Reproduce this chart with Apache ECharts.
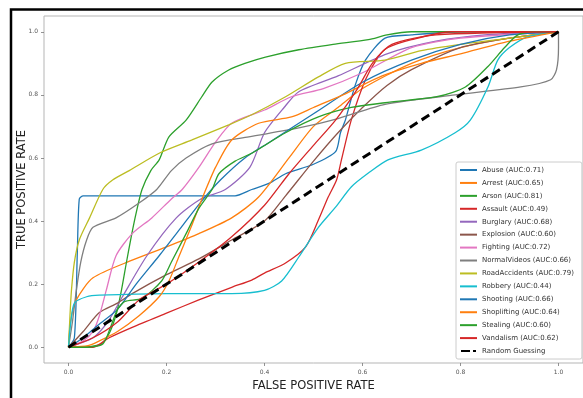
<!DOCTYPE html>
<html>
<head>
<meta charset="utf-8">
<script src="https://cdn.jsdelivr.net/npm/echarts@6/dist/echarts.min.js"></script>
<style>
html,body{margin:0;padding:0;background:#fff;}
#chart{width:583px;height:398px;}
</style>
</head>
<body>
<div id="chart"></div>
<script>
// ---- data ----
const categories = ["Abuse","Arrest","Arson","Assault","Burglary","Explosion","Fighting","NormalVideos","RoadAccidents","Robbery","Shooting","Shoplifting","Stealing","Vandalism"];
const aucValues = ["0.71","0.65","0.81","0.49","0.68","0.60","0.72","0.66","0.79","0.44","0.66","0.64","0.60","0.62"];
const tickValues = [0, 0.2, 0.4, 0.6, 0.8, 1.0];

const abuse = [[0,0],[0.012,0.03],[0.018,0.3],[0.022,0.47],[0.03,0.48],[0.2,0.48],[0.34,0.48],[0.374,0.5],[0.41,0.52],[0.443,0.55],[0.5,0.58],[0.545,0.62],[0.555,0.68],[0.565,0.72],[0.585,0.83],[0.606,0.91],[0.646,0.98],[0.7,0.99],[0.8,1],[1,1]];
const arrest = [[0,0],[0.004,0.08],[0.016,0.15],[0.05,0.22],[0.13,0.276],[0.2,0.318],[0.266,0.36],[0.333,0.41],[0.388,0.476],[0.45,0.6],[0.5,0.7],[0.55,0.76],[0.6,0.82],[0.7,0.9],[0.8,0.95],[0.9,0.98],[1,1]];
const arson = [[0,0],[0.03,0],[0.055,0.005],[0.069,0.013],[0.085,0.05],[0.098,0.108],[0.108,0.18],[0.118,0.267],[0.128,0.35],[0.138,0.425],[0.15,0.5],[0.168,0.56],[0.185,0.594],[0.205,0.667],[0.24,0.72],[0.272,0.794],[0.293,0.841],[0.327,0.879],[0.36,0.9],[0.402,0.92],[0.47,0.943],[0.54,0.96],[0.612,0.975],[0.65,0.99],[0.7,1],[1,1]];
const assault = [[0,0],[0.05,0],[0.083,0.03],[0.13,0.063],[0.2,0.108],[0.266,0.15],[0.333,0.19],[0.374,0.213],[0.4,0.235],[0.443,0.267],[0.484,0.318],[0.51,0.403],[0.53,0.476],[0.547,0.53],[0.557,0.594],[0.577,0.72],[0.606,0.848],[0.632,0.92],[0.652,0.95],[0.7,0.975],[0.78,1],[1,1]];
const burglary = [[0,0],[0.05,0.03],[0.08,0.08],[0.11,0.16],[0.16,0.29],[0.22,0.41],[0.27,0.47],[0.32,0.5],[0.37,0.57],[0.4,0.68],[0.44,0.76],[0.47,0.81],[0.55,0.86],[0.65,0.93],[0.75,0.97],[0.85,0.99],[1,1]];
const explosion = [[0,0],[0.03,0.05],[0.063,0.11],[0.1,0.14],[0.13,0.17],[0.2,0.23],[0.266,0.28],[0.333,0.34],[0.4,0.4],[0.443,0.48],[0.5,0.59],[0.55,0.68],[0.6,0.76],[0.65,0.83],[0.7,0.88],[0.8,0.95],[0.9,0.98],[1,1]];
const fighting = [[0,0],[0.03,0.02],[0.05,0.05],[0.063,0.1],[0.077,0.18],[0.097,0.29],[0.13,0.36],[0.17,0.41],[0.21,0.47],[0.232,0.5],[0.266,0.57],[0.3,0.65],[0.333,0.71],[0.4,0.752],[0.455,0.794],[0.52,0.82],[0.6,0.87],[0.7,0.95],[0.8,0.98],[1,1]];
const normalVideos = [[0,0],[0.008,0.08],[0.016,0.18],[0.025,0.27],[0.037,0.34],[0.05,0.38],[0.097,0.41],[0.144,0.457],[0.18,0.5],[0.21,0.56],[0.24,0.6],[0.293,0.645],[0.368,0.667],[0.47,0.695],[0.55,0.725],[0.646,0.77],[0.789,0.8],[0.923,0.825],[0.984,0.848],[0.996,0.88],[1,0.95],[1,1]];
const roadAccidents = [[0,0],[0.003,0.1],[0.006,0.18],[0.012,0.27],[0.022,0.34],[0.043,0.41],[0.07,0.5],[0.09,0.53],[0.124,0.56],[0.185,0.615],[0.252,0.657],[0.327,0.705],[0.374,0.737],[0.443,0.794],[0.51,0.857],[0.565,0.9],[0.646,0.91],[0.72,0.94],[0.8,0.96],[0.9,0.98],[1,1]];
const robbery = [[0,0],[0.004,0.07],[0.012,0.14],[0.037,0.16],[0.063,0.165],[0.2,0.17],[0.333,0.17],[0.4,0.18],[0.435,0.21],[0.47,0.286],[0.51,0.38],[0.545,0.444],[0.577,0.508],[0.612,0.552],[0.652,0.594],[0.72,0.625],[0.789,0.68],[0.82,0.72],[0.856,0.825],[0.876,0.91],[0.9,0.95],[0.937,0.984],[1,1]];
const shooting = [[0,0],[0.03,0.03],[0.06,0.07],[0.1,0.12],[0.138,0.2],[0.185,0.29],[0.23,0.38],[0.27,0.46],[0.31,0.53],[0.36,0.6],[0.41,0.65],[0.5,0.74],[0.6,0.84],[0.7,0.91],[0.8,0.96],[0.9,0.99],[1,1]];
const shoplifting = [[0,0],[0.04,0.005],[0.063,0.02],[0.1,0.05],[0.144,0.1],[0.185,0.16],[0.205,0.21],[0.226,0.29],[0.25,0.38],[0.275,0.48],[0.3,0.57],[0.333,0.657],[0.388,0.71],[0.455,0.73],[0.5,0.76],[0.56,0.8],[0.64,0.86],[0.72,0.9],[0.8,0.93],[0.9,0.97],[1,1]];
const stealing = [[0,0],[0.04,0],[0.07,0.01],[0.085,0.06],[0.1,0.12],[0.115,0.145],[0.15,0.155],[0.19,0.21],[0.21,0.27],[0.24,0.36],[0.266,0.44],[0.293,0.5],[0.307,0.55],[0.34,0.59],[0.374,0.615],[0.443,0.68],[0.51,0.73],[0.577,0.76],[0.646,0.775],[0.754,0.795],[0.81,0.825],[0.856,0.89],[0.89,0.95],[0.917,0.99],[0.95,1],[1,1]];
const vandalism = [[0,0],[0.05,0.03],[0.1,0.08],[0.144,0.15],[0.2,0.2],[0.266,0.27],[0.333,0.35],[0.4,0.45],[0.45,0.55],[0.5,0.64],[0.545,0.72],[0.59,0.82],[0.62,0.9],[0.66,0.96],[0.75,0.99],[1,1]];
const randomGuess = [[0,0],[1,1]];

const curves = [abuse, arrest, arson, assault, burglary, explosion, fighting, normalVideos, roadAccidents, robbery, shooting, shoplifting, stealing, vandalism];
const colors = ["#1f77b4","#ff7f0e","#2ca02c","#d62728","#9467bd","#8c564b","#e377c2","#7f7f7f","#bcbd22","#17becf","#1f77b4","#ff7f0e","#2ca02c","#d62728"];

// ---- chart ----
const chart = echarts.init(document.getElementById('chart'), null, {renderer: 'canvas'});
const FONT = 'DejaVu Sans';

const series = curves.map((d, i) => ({
  name: categories[i] + ' (AUC:' + aucValues[i] + ')',
  type: 'line',
  data: d,
  symbol: 'none',
  smooth: 0.25,
  lineStyle: {color: colors[i], width: 1.3},
  itemStyle: {color: colors[i]},
  animation: false
}));
series.push({
  name: 'Random Guessing',
  type: 'line',
  data: randomGuess,
  symbol: 'none',
  lineStyle: {color: '#000', width: 3, type: [9, 5]},
  itemStyle: {color: '#000'},
  z: 5,
  animation: false
});

const labelCommon = {
  customValues: tickValues,
  fontSize: 6,
  fontFamily: FONT,
  color: '#555',
  formatter: v => v.toFixed(1)
};

const axisCommon = {
  type: 'value',
  min: -0.05,
  max: 1.05,
  splitLine: {show: false},
  axisLine: {show: false, onZero: false},
  axisTick: {show: true, customValues: tickValues, length: 3, lineStyle: {color: '#777', width: 0.8}},
  nameLocation: 'middle',
  nameMoveOverlap: false,
  nameTextStyle: {fontFamily: FONT, fontSize: 11.5, color: '#222'}
};

const legendData = series.map((s, i) => i < curves.length
  ? {name: s.name, icon: 'rect'}
  : {name: s.name, icon: 'path://M0,0h9v2h-9z M12,0h3v2h-3z'});

chart.setOption({
  backgroundColor: '#fff',
  animation: false,
  grid: {left: 44, top: 16, width: 541, height: 347, show: true, borderColor: '#b5b5b5', borderWidth: 1, backgroundColor: 'transparent'},
  xAxis: Object.assign({}, axisCommon, {name: 'FALSE POSITIVE RATE', nameGap: 17, axisLabel: Object.assign({}, labelCommon, {margin: 6})}),
  yAxis: Object.assign({}, axisCommon, {name: 'TRUE POSITIVE RATE', nameGap: 16, axisLabel: Object.assign({}, labelCommon, {margin: 6})}),
  legend: {
    orient: 'vertical',
    left: 456,
    top: 162,
    padding: [4, 8, 4, 4],
    itemWidth: 17,
    itemHeight: 2,
    itemGap: 4.93,
    backgroundColor: 'rgba(255,255,255,0.85)',
    borderColor: '#cccccc',
    borderWidth: 1,
    borderRadius: 2,
    textStyle: {fontFamily: FONT, fontSize: 7, color: '#333', lineHeight: 8},
    data: legendData
  },
  graphic: [{
    type: 'rect',
    shape: {x: 11, y: 9.5, width: 620, height: 420},
    style: {fill: 'none', stroke: '#000', lineWidth: 2.5},
    z: 100,
    silent: true
  }],
  series: series
});
</script>
</body>
</html>
